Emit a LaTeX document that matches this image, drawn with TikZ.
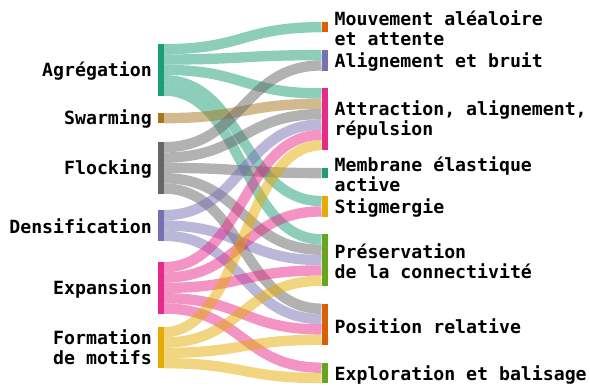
\documentclass[tikz,border=0pt]{standalone}
\usepackage{fontspec}
\setmonofont{DejaVu Sans Mono}
\usetikzlibrary{calc}
\definecolor{cgreen}{HTML}{1B9E77}
\definecolor{corange}{HTML}{D95F02}
\definecolor{cpurple}{HTML}{7570B3}
\definecolor{cpink}{HTML}{E7298A}
\definecolor{clime}{HTML}{66A61E}
\definecolor{cgold}{HTML}{E6AB02}
\definecolor{cbrown}{HTML}{A6761D}
\definecolor{cgrey}{HTML}{666666}
\newcommand\uu{10.35}
\newcommand\flow[5]{%
  \draw[flowline, draw=#5] let \p1=($(#1.north east)+(0,{(#2+0.5)*\uu})$),
    \p2=($(#3.north west)+(0,{(#4+0.5)*\uu})$) in
    (\p1) .. controls ({0.5*\x1+0.5*\x2},\y1) and ({0.5*\x1+0.5*\x2},\y2) .. (\p2);}
\begin{document}
\begin{tikzpicture}[x=1pt,y=-1pt,
  bar/.style={rectangle, inner sep=0pt, outer sep=0pt, minimum width=6pt, draw=none},
  lab/.style={font=\ttfamily\bfseries\fontsize{18.2}{20}\selectfont, inner sep=0pt},
  flowline/.style={line width=10.35pt, draw opacity=0.5}]
\useasboundingbox (0,0) rectangle (590,387);
% left bars
\node[bar, anchor=north west, minimum height={5*\uu pt}, fill=cgreen] (agr) at (158,44) {};
\node[bar, anchor=north west, minimum height={1*\uu pt}, fill=cbrown] (swa) at (158,113) {};
\node[bar, anchor=north west, minimum height={5*\uu pt}, fill=cgrey] (flo) at (158,142) {};
\node[bar, anchor=north west, minimum height={3*\uu pt}, fill=cpurple] (den) at (158,210) {};
\node[bar, anchor=north west, minimum height={5*\uu pt}, fill=cpink] (exp) at (158,262) {};
\node[bar, anchor=north west, minimum height={4*\uu pt}, fill=cgold] (fm) at (158,327) {};
% right bars
\node[bar, anchor=north west, minimum height={1*\uu pt}, fill=corange] (mou) at (321.5,22) {};
\node[bar, anchor=north west, minimum height={2*\uu pt}, fill=cpurple] (ali) at (321.5,49.95) {};
\node[bar, anchor=north west, minimum height={6*\uu pt}, fill=cpink] (att) at (321.5,88.25) {};
\node[bar, anchor=north west, minimum height={1*\uu pt}, fill=cgreen] (mem) at (321.5,167.95) {};
\node[bar, anchor=north west, minimum height={2*\uu pt}, fill=cgold] (sti) at (321.5,195.9) {};
\node[bar, anchor=north west, minimum height={5*\uu pt}, fill=clime] (pre) at (321.5,234.2) {};
\node[bar, anchor=north west, minimum height={4*\uu pt}, fill=corange] (pos) at (321.5,303.55) {};
\node[bar, anchor=north west, minimum height={2*\uu pt}, fill=clime] (exl) at (321.5,362.55) {};
% flows
\flow{agr}{0}{mou}{0}{cgreen}
\flow{agr}{1}{ali}{0}{cgreen}
\flow{agr}{2}{att}{0}{cgreen}
\flow{agr}{3}{sti}{0}{cgreen}
\flow{agr}{4}{pre}{0}{cgreen}
\flow{swa}{0}{att}{1}{cbrown}
\flow{flo}{0}{ali}{1}{cgrey}
\flow{flo}{1}{att}{2}{cgrey}
\flow{flo}{2}{mem}{0}{cgrey}
\flow{flo}{3}{pre}{1}{cgrey}
\flow{flo}{4}{pos}{0}{cgrey}
\flow{den}{0}{att}{3}{cpurple}
\flow{den}{1}{pre}{2}{cpurple}
\flow{den}{2}{pos}{1}{cpurple}
\flow{exp}{0}{att}{4}{cpink}
\flow{exp}{1}{sti}{1}{cpink}
\flow{exp}{2}{pre}{3}{cpink}
\flow{exp}{3}{pos}{2}{cpink}
\flow{exp}{4}{exl}{0}{cpink}
\flow{fm}{0}{att}{5}{cgold}
\flow{fm}{1}{pre}{4}{cgold}
\flow{fm}{2}{pos}{3}{cgold}
\flow{fm}{3}{exl}{1}{cgold}
% redraw bars on top
\foreach \n/\c in {agr/cgreen,swa/cbrown,flo/cgrey,den/cpurple,exp/cpink,fm/cgold,mou/corange,ali/cpurple,att/cpink,mem/cgreen,sti/cgold,pre/clime,pos/corange,exl/clime}
  \fill[\c] (\n.north west) rectangle (\n.south east);
% left labels
\node[lab, anchor=east] (lagr) at ([xshift=-6pt,yshift=-1pt]agr.west) {Agrégation};
\node[lab, anchor=east] (lswa) at ([xshift=-6pt,yshift=-1pt]swa.west) {Swarming};
\node[lab, anchor=east] (lflo) at ([xshift=-6pt,yshift=-1pt]flo.west) {Flocking};
\node[lab, anchor=east] (lden) at ([xshift=-6pt,yshift=-1pt]den.west) {Densification};
\node[lab, anchor=east] (lexp) at ([xshift=-6pt,yshift=-1pt]exp.west) {Expansion};
\node[lab, anchor=east, align=right] (lfm) at ([xshift=-6pt]fm.west) {Formation\\de motifs};
% right labels
\node[lab, anchor=west, align=left] (lmou) at ([xshift=7pt,yshift=-1pt]mou.east) {Mouvement aléaloire\\et attente};
\node[lab, anchor=west] (lali) at ([xshift=7pt,yshift=-2pt]ali.east) {Alignement et bruit};
\node[lab, anchor=west, align=left] (latt) at ([xshift=7pt,yshift=-1pt]att.east) {Attraction, alignement,\\répulsion};
\node[lab, anchor=west, align=left] (lmem) at ([xshift=7pt,yshift=-1pt]mem.east) {Membrane élastique\\active};
\node[lab, anchor=west] (lsti) at ([xshift=7pt,yshift=-2pt]sti.east) {Stigmergie};
\node[lab, anchor=west, align=left] (lpre) at ([xshift=7pt,yshift=-1pt]pre.east) {Préservation\\de la connectivité};
\node[lab, anchor=west] (lpos) at ([xshift=7pt,yshift=-2pt]pos.east) {Position relative};
\node[lab, anchor=west] (lexl) at ([xshift=7pt,yshift=-2pt]exl.east) {Exploration et balisage};
\end{tikzpicture}
\end{document}
